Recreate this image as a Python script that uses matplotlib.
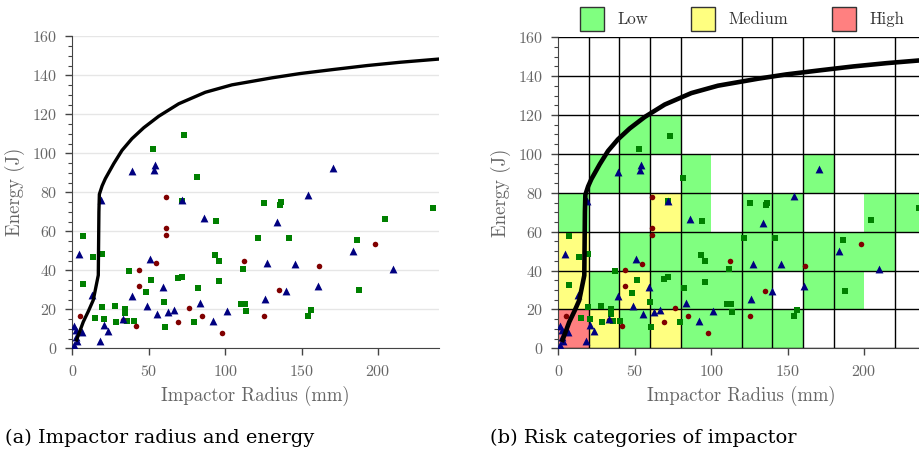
import matplotlib.pyplot as plt
import numpy as np
from matplotlib.colors import ListedColormap
from matplotlib.patches import Patch

# 安全曲线
curve_r = [2.8, 7.2, 10.5, 13.7, 17.0, 17.4, 17.7, 19.5, 21.6, 27.1, 32.5, 39.0, 46.7, 56.5, 69.6, 87.0,
           104.4, 130.6, 149.0, 171.0, 192.8, 214.6, 240.8]
curve_e = [4.3, 13.6, 19.0, 24.7, 37.5, 70.0, 79.0, 83.3, 87.0, 94.7, 101.5, 107.5, 113.1, 119.0, 125.4, 131.3,
           135.1, 138.7, 140.9, 143.0, 145.0, 146.7, 148.4]

sq_r = [7.2, 13.3, 19.7, 7.2, 19.7, 15.1, 20.5, 28.2, 28.8, 34.3, 34.3, 35.6, 40.2, 37.3, 48.3, 51.3, 53.0,
        60.0, 60.5, 68.8, 71.6, 71.6, 73.1, 79.5, 81.9, 81.4, 93.0, 96.1, 96.1, 93.7, 110.3, 113.1, 113.3,
        111.4, 121.2, 125.5, 136.0, 136.7, 141.7, 153.9, 155.9, 186.2, 187.8, 204.8, 235.8]
sq_e = [57.7, 46.9, 48.6, 32.8, 21.0, 15.4, 15.2, 21.7, 13.6, 20.0, 17.9, 14.2, 14.2, 39.6, 28.7, 35.0, 102.3,
        23.7, 10.9, 35.8, 36.5, 75.6, 109.3, 13.6, 31.0, 87.8, 48.1, 45.0, 34.3, 65.5, 22.9, 22.9, 18.9,
        40.9, 56.5, 74.7, 73.5, 74.9, 56.5, 16.7, 19.8, 55.6, 29.7, 66.2, 72.2]

ci_r = [4.8, 41.5, 43.4, 43.9, 54.8, 61.4, 61.4, 61.4, 69.0, 76.2, 84.9, 97.6, 112.0, 125.1, 135.2, 161.6, 197.8, 33.3]
ci_e = [16.5, 11.3, 40.1, 32.2, 43.5, 77.6, 61.7, 58.2, 13.5, 20.5, 16.7, 8.0, 44.9, 16.5, 29.7, 42.3, 53.6, 14.5]

tr_r = [1.1, 1.3, 2.4, 2.4, 2.8, 4.4, 6.5, 13.1, 18.2, 19.0, 20.6, 23.6, 33.4, 39.2, 38.9, 48.9, 51.1, 53.5,
        54.4, 55.7, 59.5, 62.5, 66.2, 71.8, 83.7, 85.8, 91.7, 101.1, 125.8, 127.5, 133.8, 139.6, 145.5, 153.9,
        161.0, 170.7, 183.6, 209.6]
tr_e = [1.5, 11.5, 9.4, 5.6, 3.5, 48.6, 8.4, 27.3, 3.9, 75.9, 12.1, 8.7, 15.0, 27.0, 90.7, 21.9, 45.7, 91.6,
        94.2, 17.4, 31.3, 18.8, 19.7, 75.9, 23.4, 66.7, 13.9, 19.0, 25.4, 43.5, 64.7, 29.4, 43.3, 78.5,
        31.9, 92.3, 50.0, 40.8]

# 风险等级: 0 无, 1 Low, 2 Medium, 3 High  (行: 能量 0-20, 20-40 ...; 列: 半径 0-20, 20-40 ...)
risk = np.array([
    [3, 2, 1, 2, 1, 1, 1, 1, 0, 0, 0, 0],
    [2, 1, 2, 1, 1, 1, 1, 0, 1, 1, 0, 0],
    [2, 0, 1, 1, 1, 1, 1, 1, 1, 1, 1, 0],
    [1, 0, 0, 2, 1, 0, 1, 1, 0, 0, 1, 1],
    [0, 1, 1, 0, 1, 0, 0, 0, 1, 0, 0, 0],
    [0, 0, 1, 1, 0, 0, 0, 0, 0, 0, 0, 0],
    [0, 0, 0, 0, 0, 0, 0, 0, 0, 0, 0, 0],
    [0, 0, 0, 0, 0, 0, 0, 0, 0, 0, 0, 0],
])
risk_labels = ["Low", "Medium", "High"]
risk_colors = ["#80ff80", "#ffff80", "#ff8080"]

plt.rcParams['font.family'] = 'cmr10'
plt.rcParams['axes.formatter.use_mathtext'] = True
gray = "#666666"

fig = plt.figure(figsize=(9.19, 4.57), dpi=100)
ax1 = fig.add_axes([72.3/919, 1-348.3/457, 367/919, 312/457])
ax2 = fig.add_axes([558.3/919, 1-348.3/457, 367/919, 311/457])


def style(ax):
    ax.set_xlim(0, 240)
    ax.set_ylim(0, 160)
    ax.set_xticks([0, 50, 100, 150, 200])
    ax.set_yticks(np.arange(0, 161, 20))
    ax.set_yticks(np.arange(0, 161, 5), minor=True)
    ax.tick_params(which='major', direction='out', length=5, width=1, color='#444444',
                   labelcolor=gray, labelsize=11.5, pad=6)
    ax.tick_params(which='minor', direction='out', length=3, width=0.8, color='#444444')
    for s in ['top', 'right']:
        ax.spines[s].set_visible(False)
    for s in ['left', 'bottom']:
        ax.spines[s].set_color('#444444')
    ax.set_xlabel("Impactor Radius (mm)", color=gray, fontsize=13.5, labelpad=5)
    ax.set_ylabel("Energy (J)", color=gray, fontsize=13.5, labelpad=5)


def points(ax):
    ax.scatter(sq_r, sq_e, marker='s', s=17, color='#008000', zorder=3, linewidths=0)
    ax.scatter(ci_r, ci_e, marker='o', s=16, color='#800000', zorder=3, linewidths=0)
    ax.scatter(tr_r, tr_e, marker='^', s=32, color='#000080', zorder=3, linewidths=0)


# (a)
style(ax1)
ax1.grid(axis='y', color='#e6e6e6', lw=1)
ax1.set_axisbelow(True)
points(ax1)
ax1.plot(curve_r, curve_e, color='black', lw=2.4, zorder=4, solid_joinstyle='round')

# (b)
style(ax2)
cmap = ListedColormap(["white"] + risk_colors)
xe = np.arange(0, 241, 20)
ye = np.arange(0, 161, 20)
ax2.pcolormesh(xe, ye, risk, cmap=cmap, vmin=-0.5, vmax=3.5, zorder=0)
ax2.set_xticks(np.arange(0, 241, 20), minor=True)
ax2.grid(which='major', axis='y', color='black', lw=1)
ax2.grid(which='minor', axis='x', color='black', lw=1)
ax2.tick_params(axis='x', which='minor', length=0)
for line in ax2.get_xgridlines() + ax2.get_ygridlines():
    line.set_zorder(1)
for line in ax2.xaxis.get_minorticklines():
    line.set_zorder(1)
ax2.set_axisbelow(False)
points(ax2)
ax2.plot(curve_r, curve_e, color='black', lw=3.3, zorder=4, solid_joinstyle='round')

handles = [Patch(facecolor=c, edgecolor='#333333', lw=1) for c in risk_colors]
fig.legend(handles, risk_labels, loc='center', bbox_to_anchor=(742/919, 1-19/457), ncol=3,
           frameon=False, fontsize=12, handlelength=1.45, handleheight=1.8,
           handletextpad=0.8, columnspacing=2.6, labelcolor='#333333')

fig.text(5/919, 1-438/457, "(a) Impactor radius and energy", fontsize=14, va='center',
         family='DejaVu Serif')
fig.text(490/919, 1-438/457, "(b) Risk categories of impactor", fontsize=14, va='center',
         family='DejaVu Serif')

fig.savefig("out.png", dpi=100)
